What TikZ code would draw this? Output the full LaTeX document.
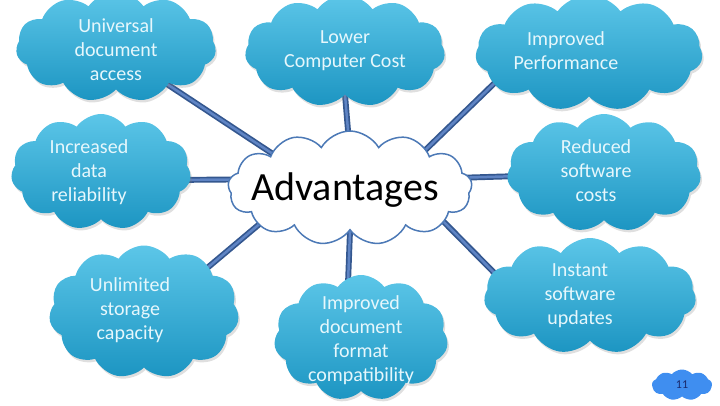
\documentclass[tikz,border=0pt]{standalone}
\usepackage{fontspec}
\setmainfont{Carlito}
\usetikzlibrary{shapes.symbols,backgrounds,shadows}

\definecolor{cloudtop}{HTML}{5CC6E8}
\definecolor{cloudbot}{HTML}{1C95C2}
\definecolor{cloudtext}{HTML}{E6F7FC}
\definecolor{linkdark}{HTML}{34578F}
\definecolor{linklight}{HTML}{5F84C4}
\definecolor{advline}{HTML}{4C79B6}
\definecolor{pageblue}{HTML}{3F8EF0}
\definecolor{pagetext}{HTML}{1A2A6C}

\tikzset{
    idea/.style={cloud, cloud puffs=11, cloud puff arc=110, aspect=2, inner sep=0pt,
        top color=cloudtop, bottom color=cloudbot,
        drop shadow={opacity=0.25, shadow xshift=1.5pt, shadow yshift=-2.5pt}},
    ideatext/.style={text=cloudtext, align=center, font=\fontsize{20}{24}\selectfont},
    link/.style={draw=linkdark, double=linklight, double distance=2.5pt, line width=1.7pt,
        shorten <=-10pt, shorten >=-10pt}
}

\begin{document}
\begin{tikzpicture}[x=1pt,y=-1pt]
    \useasboundingbox (0,0) rectangle (720,405);

    \coordinate (C) at (350,188);
    \coordinate (U) at (116,47);
    \coordinate (L) at (345,51);
    \coordinate (P) at (589,53);
    \coordinate (D) at (101,172);
    \coordinate (R) at (604,173);
    \coordinate (S) at (144,312);
    \coordinate (F) at (361,338);
    \coordinate (I) at (590,296);
    \coordinate (N) at (682,385);

    \node[idea, minimum width=200, minimum height=110] (access) at (U) {};
    \node[idea, minimum width=200, minimum height=112] (cost) at (L) {};
    \node[idea, minimum width=227, minimum height=116] (perf) at (P) {};
    \node[idea, minimum width=180, minimum height=116] (relia) at (D) {};
    \node[idea, minimum width=194, minimum height=118] (softcost) at (R) {};
    \node[idea, minimum width=190, minimum height=133] (storage) at (S) {};
    \node[idea, minimum width=174, minimum height=126] (format) at (F) {};
    \node[idea, minimum width=212, minimum height=116] (updates) at (I) {};

    \node[cloud, cloud puffs=13, cloud puff arc=120, aspect=2, inner sep=0pt,
        minimum width=244, minimum height=114, fill=white, draw=advline,
        line width=1.5pt] (adv) at (C) {};

    \node[cloud, cloud puffs=9, cloud puff arc=100, aspect=2, inner sep=0pt,
        minimum width=60, minimum height=31, fill=pageblue] (page) at (N) {};

    \begin{scope}[on background layer]
        \draw[link] (adv.156) -- (access.324);
        \draw[link] (adv.92) -- (cost.270);
        \draw[link] (adv.27) -- (perf.198);
        \draw[link] (adv.176) -- (relia.355);
        \draw[link] (adv.5) -- (softcost.182);
        \draw[link] (adv.202) -- (storage.35);
        \draw[link] (adv.270) -- (format.102);
        \draw[link] (adv.340) -- (updates.166);
    \end{scope}

%labels
    \node[ideatext] (accesstext) at (U) [yshift=-3pt] {Universal\\document\\access};
    \node[ideatext] (costtext) at (L) {Lower\\Computer Cost};
    \node[ideatext, xshift=-23pt, yshift=2pt] (perftext) at (P) {Improved\\Performance};
    \node[ideatext, xshift=-12pt] (reliatext) at (D) {Increased\\data\\reliability};
    \node[ideatext, xshift=-8pt, yshift=2pt] (softcosttext) at (R) {Reduced\\software\\costs};
    \node[ideatext, xshift=-14pt, yshift=2pt] (storagetext) at (S) {Unlimited\\storage\\capacity};
    \node[ideatext, yshift=-2pt] (formattext) at (F) {Improved\\document\\format\\compatibility};
    \node[ideatext, xshift=-10pt] (updatestext) at (I) {Instant\\software\\updates};
    \node[font=\fontsize{40}{48}\selectfont, yshift=-2pt, xshift=-5pt] (advtext) at (C) {Advantages};
    \node[text=pagetext, font=\fontsize{12}{14}\selectfont] (pagetext) at (N) {11};

\end{tikzpicture}
\end{document}
